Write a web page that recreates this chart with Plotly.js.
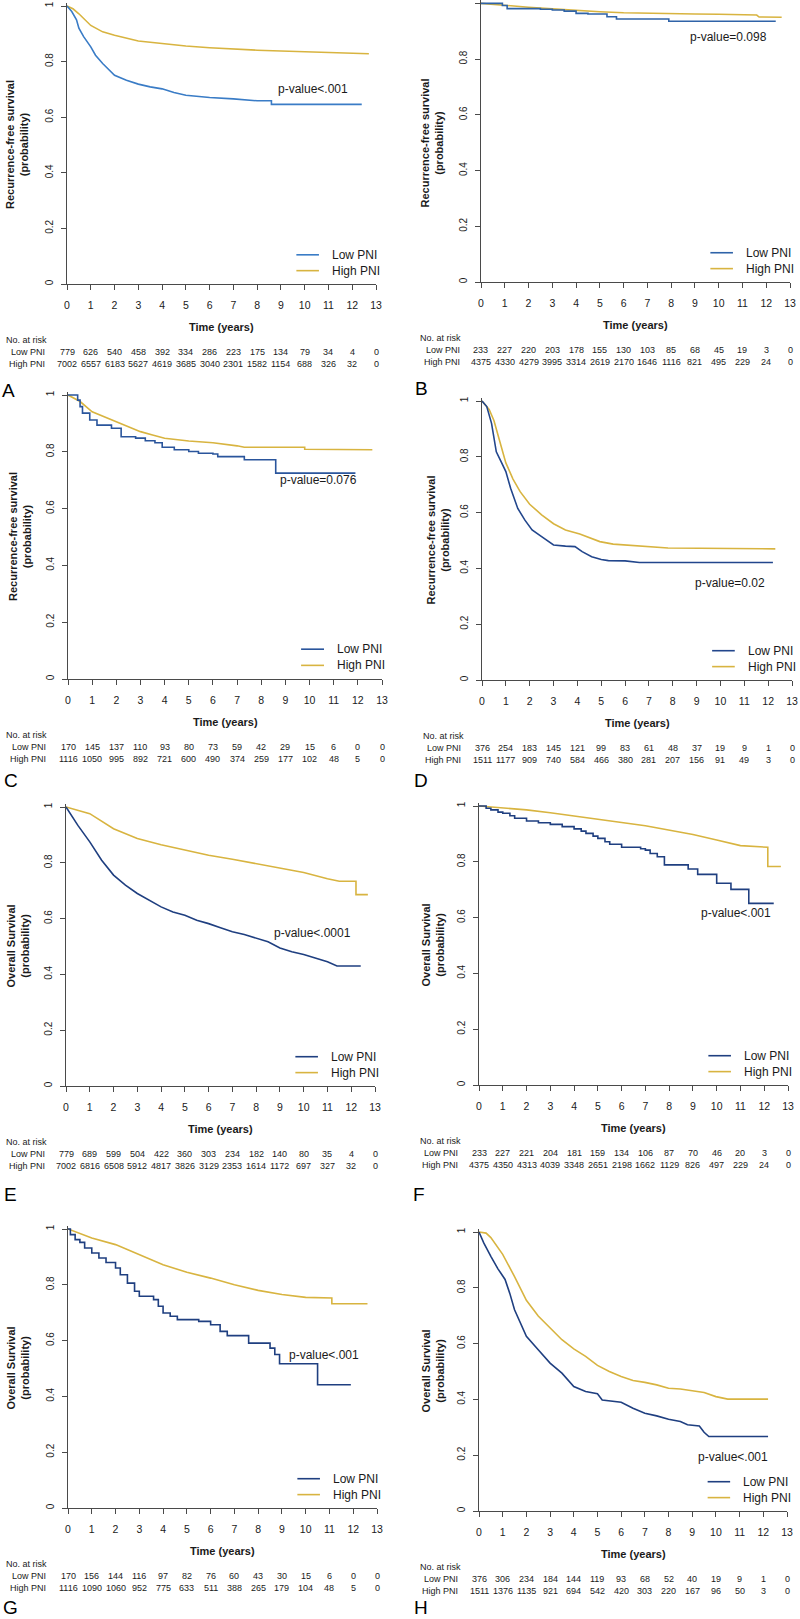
<!DOCTYPE html>
<html><head><meta charset="utf-8">
<script src="https://cdn.plot.ly/plotly-3.0.1.min.js"></script>
<style>html,body{margin:0;padding:0;background:#fff}</style>
</head><body><div id="chart" style="width:800px;height:1619px"></div>
<script>
// ---------- data ----------
const riskTimes = [0,1,2,3,4,5,6,7,8,9,10,11,12,13];
const yTickVals = [0,0.2,0.4,0.6,0.8,1];
const yTickText = ["0","0.2","0.4","0.6","0.8","1"];

// Panel A  (Recurrence-free survival)
const A_low_t  = [0,0.2,0.4,0.5,0.7,1,1.2,1.5,2,2.5,3,3.5,4,4.5,5,6,7,8,8.6,8.6,12.4];
const A_low_s  = [1,0.98,0.95,0.92,0.89,0.853,0.823,0.793,0.751,0.733,0.719,0.709,0.702,0.689,0.679,0.671,0.666,0.659,0.659,0.646,0.646];
const A_high_t = [0,0.25,0.5,0.75,1,1.5,2,3,4,5,6,7,8,9,10,11,12,12.7];
const A_high_s = [1,0.99,0.972,0.952,0.93,0.907,0.895,0.874,0.865,0.856,0.85,0.845,0.841,0.838,0.836,0.834,0.831,0.828];
const A_risk_low  = [779,626,540,458,392,334,286,223,175,134,79,34,4,0];
const A_risk_high = [7002,6557,6183,5627,4619,3685,3040,2301,1582,1154,688,326,32,0];

// Panel B
const B_low_t  = [0,0.9,1.1,2.5,3,3.5,4,4.5,5.3,5.7,7.9,12.4];
const B_low_s  = [1,0.992,0.981,0.979,0.976,0.972,0.964,0.962,0.952,0.944,0.936,0.936];
const B_high_t = [0,1,2,3,4,5,6,7,8,9,10,11,11.6,11.7,12.65];
const B_high_s = [1,0.992,0.986,0.98,0.974,0.97,0.966,0.964,0.963,0.962,0.961,0.96,0.958,0.951,0.95];
const B_risk_low  = [233,227,220,203,178,155,130,103,85,68,45,19,3,0];
const B_risk_high = [4375,4330,4279,3995,3314,2619,2170,1646,1116,821,495,229,24,0];

// Panel C
const C_low_t  = [0,0.4,0.5,0.6,0.9,1.2,1.8,2.2,2.8,3.2,3.6,3.9,4.4,5,5.4,6,6.2,7.3,8.6,11.9];
const C_low_s  = [1,0.982,0.959,0.936,0.912,0.894,0.883,0.853,0.848,0.839,0.832,0.816,0.807,0.801,0.795,0.792,0.783,0.772,0.725,0.725];
const C_high_t = [0,0.5,1,1.5,2,2.5,3,3.5,4,5,6,7,7.3,9.8,9.8,12.6];
const C_high_s = [1,0.977,0.941,0.924,0.906,0.889,0.871,0.859,0.848,0.838,0.832,0.821,0.816,0.816,0.809,0.807];
const C_risk_low  = [170,145,137,110,93,80,73,59,42,29,15,6,0,0];
const C_risk_high = [1116,1050,995,892,721,600,490,374,259,177,102,48,5,0];

// Panel D
const D_low_t  = [0,0.2,0.4,0.6,0.8,1,1.2,1.5,1.8,2.1,2.5,3,3.5,3.9,4.2,4.6,5,5.3,6,6.6,12.2];
const D_low_s  = [1,0.98,0.92,0.818,0.783,0.747,0.687,0.615,0.573,0.538,0.514,0.484,0.48,0.478,0.46,0.442,0.432,0.428,0.427,0.421,0.421];
const D_high_t = [0,0.3,0.5,0.75,1,1.3,1.6,2,2.5,3,3.5,4.1,4.94,5.5,6.4,7.8,12.3];
const D_high_s = [1,0.97,0.93,0.857,0.778,0.72,0.675,0.63,0.592,0.56,0.538,0.523,0.496,0.487,0.481,0.473,0.47];
const D_risk_low  = [376,254,183,145,121,99,83,61,48,37,19,9,1,0];
const D_risk_high = [1511,1177,909,740,584,466,380,281,207,156,91,49,3,0];

// Panel E  (Overall survival)
const E_low_t  = [0,0.5,1,1.5,2,2.5,3,3.5,4,4.5,5,5.5,6,6.5,7,7.5,8,8.5,9,9.5,10,10.5,11,11.4,12.4];
const E_low_s  = [1,0.934,0.875,0.809,0.756,0.72,0.69,0.666,0.642,0.624,0.612,0.594,0.582,0.567,0.553,0.543,0.529,0.517,0.495,0.481,0.471,0.457,0.445,0.43,0.43];
const E_high_t = [0,1,2,3,4,5,6,7,8,9,10,11,11.5,12.2,12.2,12.7];
const E_high_s = [1,0.976,0.922,0.887,0.865,0.845,0.827,0.813,0.797,0.779,0.765,0.743,0.734,0.734,0.686,0.686];
const E_risk_low  = [779,689,599,504,422,360,303,234,182,140,80,35,4,0];
const E_risk_high = [7002,6816,6508,5912,4817,3826,3129,2353,1614,1172,697,327,32,0];

// Panel F
const F_low_t  = [0,0.3,0.5,0.8,1,1.3,1.5,2,2.5,3,3.5,4,4.3,4.5,4.8,5,5.3,5.5,6,6.8,7,7.2,7.5,7.8,8.8,9.2,10,10.6,11.35,12.4];
const F_low_s  = [1,0.992,0.986,0.978,0.974,0.965,0.956,0.946,0.94,0.934,0.926,0.918,0.91,0.902,0.892,0.884,0.872,0.863,0.852,0.847,0.842,0.83,0.818,0.789,0.774,0.755,0.723,0.701,0.651,0.651];
const F_high_t = [0,1,2,3,4,5,6,7,8,9,10,11,12.15,12.15,12.7];
const F_high_s = [1,0.994,0.986,0.976,0.965,0.953,0.941,0.929,0.914,0.898,0.878,0.858,0.852,0.783,0.783];
const F_risk_low  = [233,227,221,204,181,159,134,106,87,70,46,20,3,0];
const F_risk_high = [4375,4350,4313,4039,3348,2651,2198,1662,1129,826,497,229,24,0];

// Panel G
const G_low_t  = [0,0.1,0.3,0.5,0.7,1,1.3,1.6,2,2.2,2.5,2.8,3,3.6,3.8,4,4.3,4.6,5.5,6,6.4,6.7,7.6,8.5,8.7,8.9,10.5,11.9];
const G_low_s  = [1,0.98,0.962,0.952,0.932,0.914,0.896,0.88,0.86,0.836,0.806,0.777,0.759,0.747,0.723,0.699,0.687,0.675,0.669,0.657,0.633,0.618,0.591,0.573,0.55,0.517,0.442,0.442];
const G_high_t = [0,1,2,3,4,5,6,7,8,9,10,11.1,11.1,12.6];
const G_high_s = [1,0.968,0.944,0.908,0.872,0.845,0.824,0.8,0.78,0.765,0.755,0.753,0.732,0.732];
const G_risk_low  = [170,156,144,116,97,82,76,60,43,30,15,6,0,0];
const G_risk_high = [1116,1090,1060,952,775,633,511,388,265,179,104,48,5,0];

// Panel H
const H_low_t  = [0,0.2,0.5,0.8,1.1,1.3,1.5,2,2.5,3,3.5,4,4.5,5,5.2,6,6.5,7,7.5,8,8.5,8.8,9.3,9.5,9.7,12.2];
const H_low_s  = [1,0.961,0.913,0.868,0.83,0.78,0.721,0.626,0.578,0.53,0.494,0.446,0.428,0.42,0.398,0.39,0.368,0.35,0.341,0.329,0.321,0.309,0.305,0.282,0.267,0.267];
const H_high_t = [0,0.3,0.5,1,1.5,2,2.5,3,3.5,4,4.5,5,5.5,6,6.5,7,7.5,8,8.5,9,9.5,10,10.5,12.2];
const H_high_s = [1,0.996,0.98,0.92,0.84,0.755,0.699,0.656,0.614,0.581,0.554,0.522,0.5,0.482,0.468,0.461,0.452,0.44,0.437,0.431,0.425,0.41,0.401,0.401];
const H_risk_low  = [376,306,234,184,144,119,93,68,52,40,19,9,1,0];
const H_risk_high = [1511,1376,1135,921,694,542,420,303,220,167,96,50,3,0];

const pValues = ["p-value&lt;.001","p-value=0.098","p-value=0.076","p-value=0.02","p-value&lt;.0001","p-value&lt;.001","p-value&lt;.001","p-value&lt;.001"];
const rfsTitle = "Recurrence-free survival<br>(probability)";
const osTitle  = "Overall Survival<br>(probability)";
const seriesNames = ["Low PNI","High PNI"];

// ---------- panel layout (pixel geometry) ----------
const W = 800, H = 1619;
const panels = [
 {L:'A', low:[A_low_t,A_low_s,'linear'], high:[A_high_t,A_high_s], risk:[A_risk_low,A_risk_high], title:rfsTitle, p:pValues[0], pPos:[10.35,0.70],
  g:{x0:67,x13:376,y1:6,y0:284,lab:[8,390],yt:17,rl:4,rr:47}, lowColor:'#3a7cc6'},
 {L:'B', low:[B_low_t,B_low_s,'hv'], high:[B_high_t,B_high_s], risk:[B_risk_low,B_risk_high], title:rfsTitle, p:pValues[1], pPos:[10.4,0.878],
  g:{x0:481,x13:790,y1:3,y0:282,lab:[421,389],yt:431,rl:418,rr:462}, lowColor:'#2f63a8'},
 {L:'C', low:[C_low_t,C_low_s,'hv'], high:[C_high_t,C_high_s], risk:[C_risk_low,C_risk_high], title:rfsTitle, p:pValues[2], pPos:[10.39,0.70],
  g:{x0:68,x13:382,y1:395,y0:679,lab:[11,780],yt:20,rl:4,rr:48}, lowColor:'#2a559c'},
 {L:'D', low:[D_low_t,D_low_s,'linear'], high:[D_high_t,D_high_s], risk:[D_risk_low,D_risk_high], title:rfsTitle, p:pValues[3], pPos:[10.4,0.349],
  g:{x0:482,x13:792,y1:401,y0:680,lab:[421,780],yt:437,rl:421,rr:463}, lowColor:'#22468c'},
 {L:'E', low:[E_low_t,E_low_s,'linear'], high:[E_high_t,E_high_s], risk:[E_risk_low,E_risk_high], title:osTitle, p:pValues[4], pPos:[10.36,0.55],
  g:{x0:66,x13:375,y1:807,y0:1086,lab:[10,1194],yt:17,rl:4,rr:47}, lowColor:'#1f3f80'},
 {L:'F', low:[F_low_t,F_low_s,'hv'], high:[F_high_t,F_high_s], risk:[F_risk_low,F_risk_high], title:osTitle, p:pValues[5], pPos:[10.83,0.615],
  g:{x0:479,x13:788,y1:806,y0:1085,lab:[419,1194],yt:432,rl:418,rr:460}, lowColor:'#1f3f80'},
 {L:'G', low:[G_low_t,G_low_s,'hv'], high:[G_high_t,G_high_s], risk:[G_risk_low,G_risk_high], title:osTitle, p:pValues[6], pPos:[10.76,0.55],
  g:{x0:68,x13:377,y1:1229,y0:1508,lab:[10,1607],yt:17,rl:4,rr:48}, lowColor:'#1f3f80'},
 {L:'H', low:[H_low_t,H_low_s,'linear'], high:[H_high_t,H_high_s], risk:[H_risk_low,H_risk_high], title:osTitle, p:pValues[7], pPos:[10.72,0.195],
  g:{x0:479,x13:787,y1:1232,y0:1511,lab:[421,1607],yt:432,rl:418,rr:460}, lowColor:'#1f3f80'}
];
const highColor = '#d8b440';
const FONT = 'Arial, "Liberation Sans", sans-serif';
const txt = '#1a1a1a', axc = '#4a4a4a';
const YMAX = 1.012;

const px = x => x / W;
const py = y => 1 - y / H;

const traces = [];
const layout = {
  width: W, height: H, margin: {l:0,r:0,t:0,b:0}, showlegend: false,
  paper_bgcolor: '#fff', plot_bgcolor: '#fff', font: {family: FONT, color: txt},
  annotations: [], shapes: []
};

panels.forEach((p, i) => {
  const n = i === 0 ? '' : String(i + 1);
  const xa = 'x' + n, ya = 'y' + n;
  const g = p.g;
  const yTopPx = g.y1 - (YMAX - 1) * (g.y0 - g.y1);
  layout['xaxis' + n] = {
    domain: [px(g.x0), px(g.x13)], range: [0, 13], anchor: ya,
    tickvals: riskTimes, ticks: 'outside', ticklen: 5, tickwidth: 1, tickcolor: axc,
    showline: true, linecolor: axc, linewidth: 1, showgrid: false, zeroline: false,
    tickfont: {size: 10.5, color: txt, family: FONT}, ticklabelstandoff: 6, fixedrange: true
  };
  layout['yaxis' + n] = {
    domain: [py(g.y0), py(yTopPx)], range: [0, YMAX], anchor: xa,
    tickvals: yTickVals, ticktext: yTickText, tickangle: -90,
    ticks: 'outside', ticklen: 5, tickwidth: 1, tickcolor: axc,
    showline: true, linecolor: axc, linewidth: 1, showgrid: false, zeroline: false,
    tickfont: {size: 10, color: txt, family: FONT}, ticklabelstandoff: 4, fixedrange: true
  };
  traces.push({x: p.high[0], y: p.high[1], xaxis: xa, yaxis: ya, mode: 'lines', name: seriesNames[1],
    line: {color: highColor, width: 1.6, shape: 'linear'}, hoverinfo: 'skip'});
  traces.push({x: p.low[0], y: p.low[1], xaxis: xa, yaxis: ya, mode: 'lines', name: seriesNames[0],
    line: {color: p.lowColor, width: 1.6, shape: p.low[2]}, hoverinfo: 'skip'});

  // legend (drawn in-plot like the original)
  const legY = [0.105, 0.048], legCol = [p.lowColor, highColor];
  for (let k = 0; k < 2; k++) {
    layout.shapes.push({type: 'line', xref: xa, yref: ya, x0: 9.65, x1: 10.6, y0: legY[k], y1: legY[k],
      line: {color: legCol[k], width: 1.6}});
    layout.annotations.push({xref: xa, yref: ya, x: 11.05, y: legY[k], text: seriesNames[k], showarrow: false,
      xanchor: 'left', yanchor: 'middle', font: {size: 12, color: txt, family: FONT}});
  }
  // p-value
  layout.annotations.push({xref: xa, yref: ya, x: p.pPos[0], y: p.pPos[1], text: p.p, showarrow: false,
    xanchor: 'center', yanchor: 'middle', font: {size: 12, color: txt, family: FONT}});
  // axis titles
  layout.annotations.push({xref: 'paper', yref: 'paper', x: px((g.x0 + g.x13) / 2), y: py(g.y0 + 43),
    text: '<b>Time (years)</b>', showarrow: false, xanchor: 'center', yanchor: 'middle',
    font: {size: 11, color: txt, family: FONT}});
  layout.annotations.push({xref: 'paper', yref: 'paper', x: px(g.yt), y: py((g.y0 + g.y1) / 2),
    text: '<b>' + p.title.replace('<br>', '</b><br><b>') + '</b>', textangle: -90, showarrow: false,
    xanchor: 'center', yanchor: 'middle', font: {size: 11, color: txt, family: FONT}});
  // risk table
  layout.annotations.push({xref: 'paper', yref: 'paper', x: px(g.rl), y: py(g.y0 + 56), text: 'No. at risk',
    showarrow: false, xanchor: 'left', yanchor: 'middle', font: {size: 9, color: txt, family: FONT}});
  for (let k = 0; k < 2; k++) {
    const ry = py(g.y0 + 68 + 12 * k);
    layout.annotations.push({xref: 'paper', yref: 'paper', x: px(g.rr), y: ry, text: seriesNames[k],
      showarrow: false, xanchor: 'right', yanchor: 'middle', font: {size: 9, color: txt, family: FONT}});
    p.risk[k].forEach((v, j) => {
      layout.annotations.push({xref: xa, yref: 'paper', x: riskTimes[j], y: ry, text: String(v),
        showarrow: false, xanchor: 'center', yanchor: 'middle', font: {size: 9, color: txt, family: FONT}});
    });
  }
  // panel letter
  layout.annotations.push({xref: 'paper', yref: 'paper', x: px(g.lab[0]), y: py(g.lab[1]), text: p.L,
    showarrow: false, xanchor: 'center', yanchor: 'middle', font: {size: 19, color: '#000', family: FONT}});
});

Plotly.newPlot('chart', traces, layout, {staticPlot: true, displayModeBar: false});
</script>
</body></html>
